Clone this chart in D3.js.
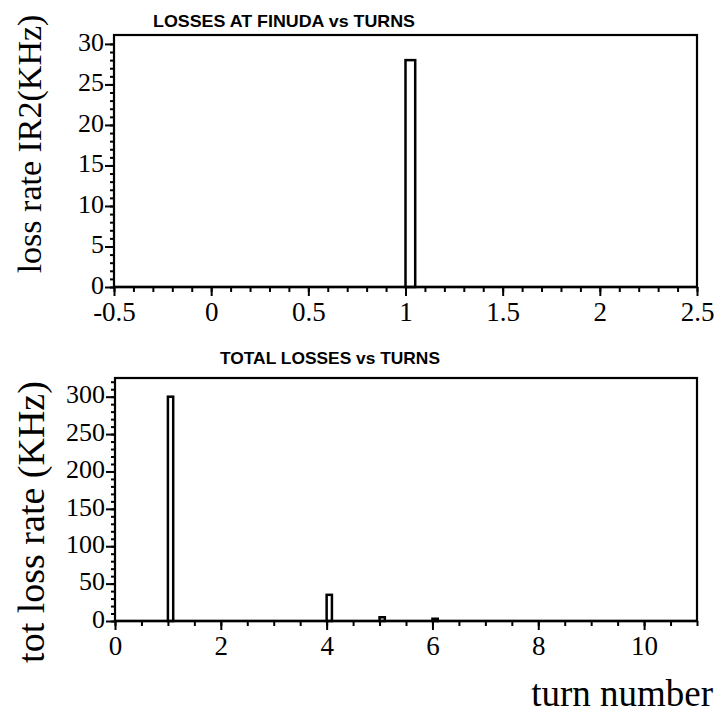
<!DOCTYPE html>
<html><head><meta charset="utf-8">
<script src="https://cdn.jsdelivr.net/npm/d3@7"></script>
<style>body{margin:0;background:#fff} svg{display:block}</style>
</head><body><svg id="chart" width="719" height="716"></svg>
<script>
// Losses at the FINUDA interaction region, per turn
const finudaTurns = [1];
const finudaRates = [28];
const finudaBinWidth = 0.05;

// Total losses around the ring, per turn
const totalTurns = [1, 4, 5, 6];
const totalRates = [300, 35, 5, 3];
const totalBinWidth = 0.1;

// Axis ticks and labels
const topXTicks = [-0.5, 0, 0.5, 1, 1.5, 2, 2.5];
const topXTickLabels = ["-0.5", "0", "0.5", "1", "1.5", "2", "2.5"];
const topYTicks = [0, 5, 10, 15, 20, 25, 30];
const bottomXTicks = [0, 2, 4, 6, 8, 10];
const bottomYTicks = [0, 50, 100, 150, 200, 250, 300];

const titles = ["LOSSES AT FINUDA vs TURNS", "TOTAL LOSSES vs TURNS"];
const yTitles = ["loss rate IR2(KHz)", "tot loss rate (KHz)"];
const xTitle = "turn number";

const svg = d3.select("#chart");
const serif = "'Liberation Serif', 'Times New Roman', serif";

function panel(cfg) {
  const g = svg.append("g");
  const x = d3.scaleLinear().domain(cfg.xDomain).range([cfg.left, cfg.right]);
  const y = d3.scaleLinear().domain(cfg.yDomain).range([cfg.bottom, cfg.top]);

  // minor ticks
  g.append("g").attr("transform", `translate(0,${cfg.bottom})`)
    .call(d3.axisBottom(x).tickValues(cfg.xMinor).tickSize(5).tickSizeOuter(0).tickFormat(""))
    .call(a => a.select(".domain").remove())
    .selectAll("line").attr("stroke-width", 2);
  g.append("g").attr("transform", `translate(${cfg.left},0)`)
    .call(d3.axisLeft(y).tickValues(cfg.yMinor).tickSize(4).tickSizeOuter(0).tickFormat(""))
    .call(a => a.select(".domain").remove())
    .selectAll("line").attr("stroke-width", 2);

  // major ticks with labels
  const xa = g.append("g").attr("transform", `translate(0,${cfg.bottom})`)
    .call(d3.axisBottom(x).tickValues(cfg.xTicks).tickSize(9).tickSizeOuter(0).tickPadding(6)
      .tickFormat((d, i) => cfg.xLabels ? cfg.xLabels[i] : String(d)));
  xa.select(".domain").remove();
  xa.selectAll("line").attr("stroke-width", 2);
  xa.selectAll("text").attr("font-family", serif).attr("font-size", cfg.tickFont).attr("fill", "#000");

  const ya = g.append("g").attr("transform", `translate(${cfg.left},0)`)
    .call(d3.axisLeft(y).tickValues(cfg.yTicks).tickSize(9).tickSizeOuter(0).tickPadding(1)
      .tickFormat(d => String(d)));
  ya.select(".domain").remove();
  ya.selectAll("line").attr("stroke-width", 2);
  ya.selectAll("text").attr("font-family", serif).attr("font-size", cfg.tickFont - 1)
    .attr("dy", "0.24em").attr("fill", "#000");

  // frame
  g.append("rect")
    .attr("x", cfg.left).attr("y", cfg.top)
    .attr("width", cfg.right - cfg.left).attr("height", cfg.bottom - cfg.top)
    .attr("fill", "none").attr("stroke", "#000").attr("stroke-width", 2.2);

  // histogram bins
  g.selectAll("rect.bin").data(cfg.xs.map((t, i) => ({ t, v: cfg.vs[i] })))
    .join("rect").attr("class", "bin")
    .attr("x", d => x(d.t))
    .attr("y", d => y(d.v))
    .attr("width", d => x(d.t + cfg.binWidth) - x(d.t))
    .attr("height", d => y(0) - y(d.v))
    .attr("fill", "#fff").attr("stroke", "#000").attr("stroke-width", 2.5);

  // baseline drawn over bins
  g.append("line").attr("x1", cfg.left).attr("x2", cfg.right)
    .attr("y1", cfg.bottom).attr("y2", cfg.bottom)
    .attr("stroke", "#000").attr("stroke-width", 2.5);

  // title
  g.append("text")
    .attr("x", cfg.titleX).attr("y", cfg.titleY)
    .attr("font-family", "'Liberation Sans Narrow', 'Liberation Sans', Arial, sans-serif")
    .attr("font-weight", "bold").attr("font-size", 17)
    .attr("textLength", cfg.titleLen).attr("lengthAdjust", "spacingAndGlyphs")
    .text(cfg.title);

  // y axis title
  g.append("text")
    .attr("transform", `translate(${cfg.yTitleX},${cfg.yTitleY}) rotate(-90)`)
    .attr("text-anchor", "middle")
    .attr("font-family", serif).attr("font-size", cfg.yTitleFont)
    .text(cfg.yTitle);
}

panel({
  xDomain: [-0.5, 2.5], yDomain: [0, 31.1],
  left: 114, right: 697, top: 35, bottom: 287,
  xTicks: topXTicks, xLabels: topXTickLabels,
  xMinor: d3.range(-5, 26).map(k => k / 10),
  yTicks: topYTicks, yMinor: d3.range(0, 31),
  xs: finudaTurns, vs: finudaRates, binWidth: finudaBinWidth,
  tickFont: 27,
  title: titles[0], titleX: 153, titleY: 27, titleLen: 262,
  yTitle: yTitles[0], yTitleX: 41, yTitleY: 144, yTitleFont: 34
});

panel({
  xDomain: [0, 11], yDomain: [0, 325],
  left: 115, right: 697, top: 378, bottom: 621,
  xTicks: bottomXTicks,
  xMinor: d3.range(0, 23).map(k => k / 2),
  yTicks: bottomYTicks, yMinor: d3.range(0, 321, 10),
  xs: totalTurns, vs: totalRates, binWidth: totalBinWidth,
  tickFont: 27,
  title: titles[1], titleX: 220, titleY: 364, titleLen: 220,
  yTitle: yTitles[1], yTitleX: 44, yTitleY: 522, yTitleFont: 38
});

svg.append("text")
  .attr("x", 713).attr("y", 706)
  .attr("text-anchor", "end")
  .attr("font-family", serif).attr("font-size", 37)
  .text(xTitle);
</script>
</body></html>
